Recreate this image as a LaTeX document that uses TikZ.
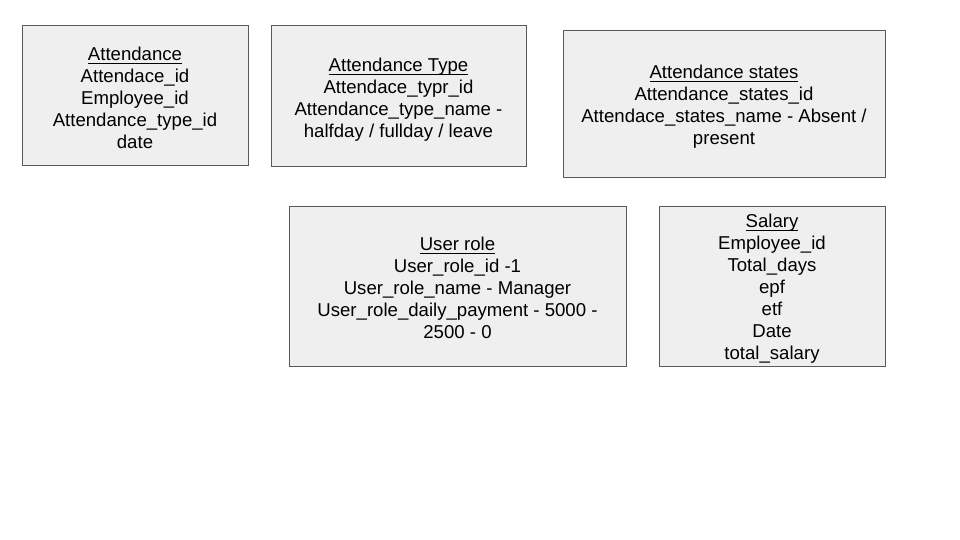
\documentclass[tikz,border=0pt]{standalone}
\usepackage{fontspec}
\setmainfont{Liberation Sans}
\definecolor{boxfill}{HTML}{EFEFEF}
\definecolor{boxline}{HTML}{595959}
\newcommand{\ulin}[1]{\setbox0\hbox{#1}\leavevmode\rlap{\smash{\color{black}\vrule width \wd0 height -2.4pt depth 3.6pt}}\box0}
\begin{document}
\begin{tikzpicture}[x=1pt,y=-1pt,
  entity/.style={draw=boxline,fill=boxfill,line width=1pt,inner sep=0pt},
  entitytext/.style={align=center,font=\fontsize{18.6}{22}\selectfont,inner sep=0pt}]
\useasboundingbox (0,0) rectangle (960,540);
\fill[white] (0,0) rectangle (960,540);
\node[entity,minimum width=226pt,minimum height=140pt] (att) at (135,96) {};
\node[entitytext,yshift=-1.5pt] (atttext) at (att.center)
  {\ulin{Attendance}\\Attendace\_id\\Employee\_id\\Attendance\_type\_id\\date};
\node[entity,minimum width=255pt,minimum height=141pt] (atype) at (398.5,96.5) {};
\node[entitytext,yshift=-3pt] (atypetext) at (atype.center)
  {\ulin{Attendance Type}\\Attendace\_typr\_id\\Attendance\_type\_name -\\halfday / fullday / leave};
\node[entity,minimum width=322pt,minimum height=147pt] (astates) at (724,104.5) {};
\node[entitytext,yshift=-2.5pt] (astatestext) at (astates.center)
  {\ulin{Attendance states}\\Attendance\_states\_id\\Attendace\_states\_name - Absent /\\present};
\node[entity,minimum width=337pt,minimum height=160pt] (urole) at (457.5,286) {};
\node[entitytext,yshift=-1.5pt] (uroletext) at (urole.center)
  {\ulin{User role}\\User\_role\_id -1\\User\_role\_name - Manager\\User\_role\_daily\_payment - 5000 -\\2500 - 0};
\node[entity,minimum width=226pt,minimum height=160pt] (salary) at (772,286) {};
\node[entitytext,yshift=-3pt] (salarytext) at (salary.center)
  {\ulin{Salary}\\Employee\_id\\Total\_days\\epf\\etf\\Date\\total\_salary};
\end{tikzpicture}
\end{document}
